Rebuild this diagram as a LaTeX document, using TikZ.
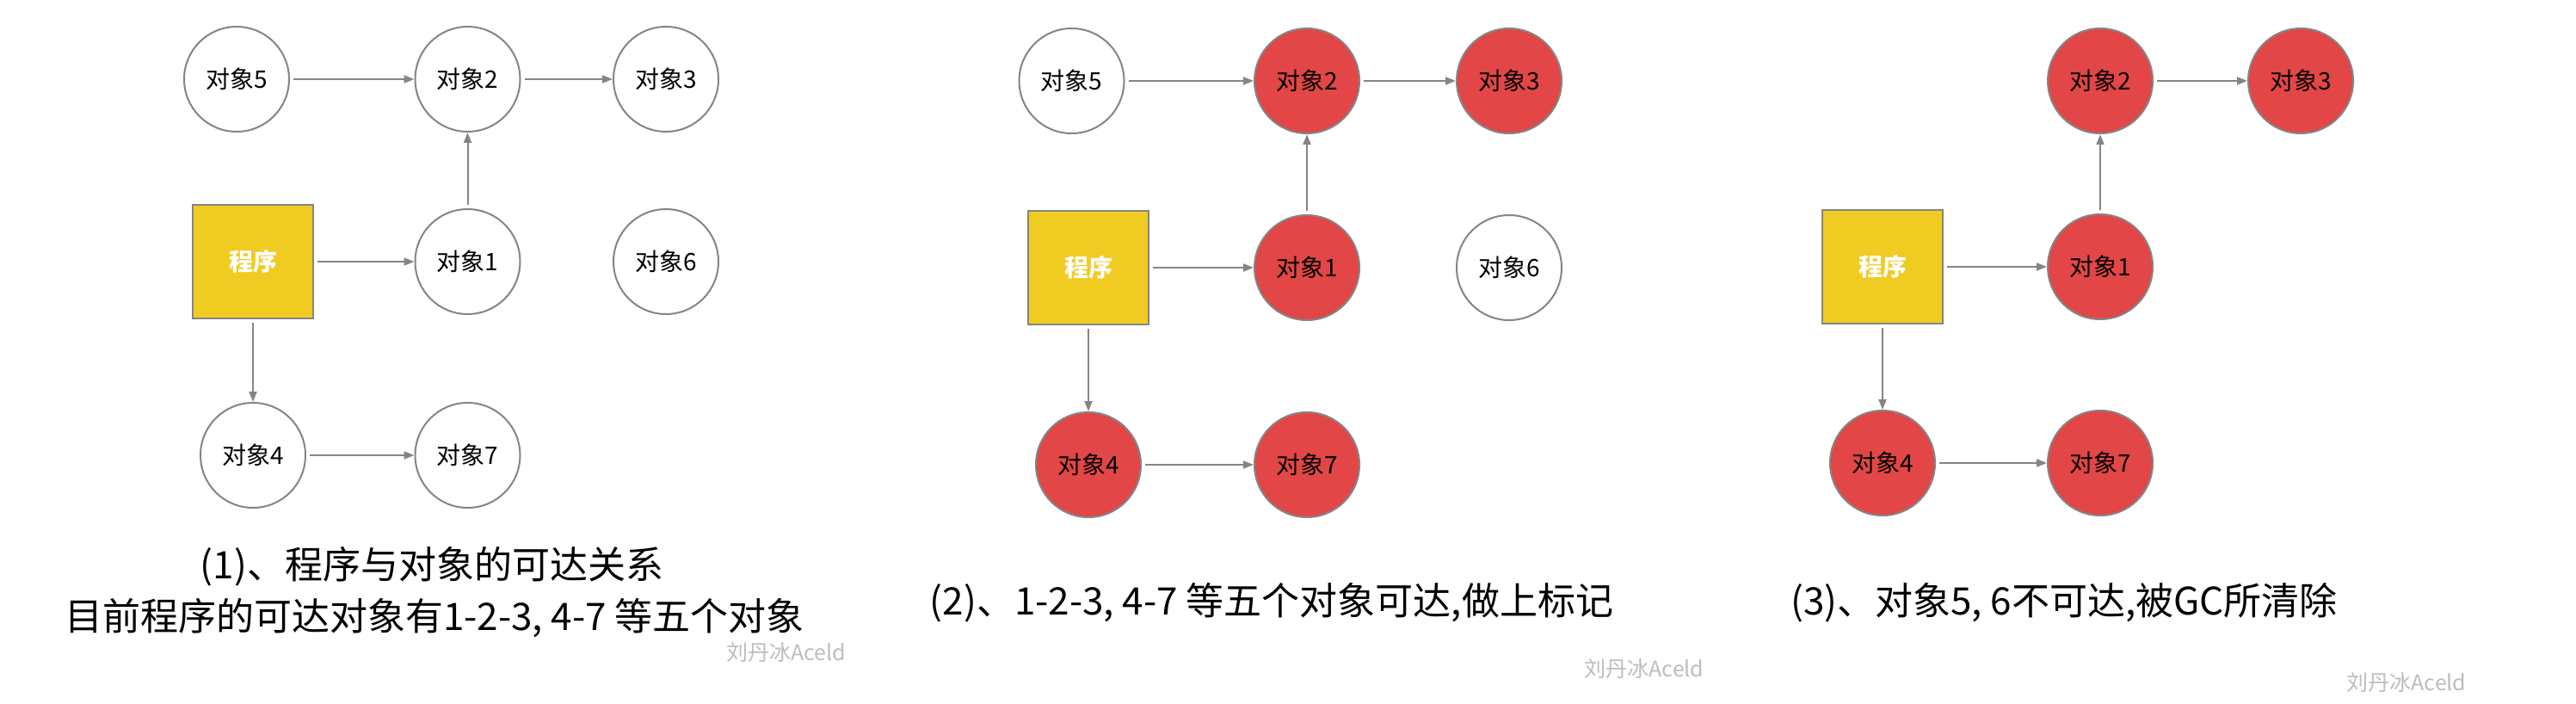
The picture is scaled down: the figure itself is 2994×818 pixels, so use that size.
\documentclass[tikz,border=0pt]{standalone}
\usepackage{fontspec}
\setmainfont{Noto Sans CJK SC}
\usetikzlibrary{arrows.meta}
\definecolor{objred}{HTML}{E24646}
\definecolor{progyellow}{HTML}{F0CB22}
\definecolor{edgegray}{HTML}{858585}
\definecolor{wmgray}{HTML}{BDBDBD}
\begin{document}
\begin{tikzpicture}[x=1pt,y=-1pt,
  obj/.style={circle, draw=edgegray, line width=2pt, minimum size=122pt, inner sep=0pt,
              fill=white, font=\fontsize{28}{32}\selectfont},
  reached/.style={obj, fill=objred},
  prog/.style={rectangle, draw=edgegray, line width=2pt, fill=progyellow,
               minimum width=140pt, minimum height=132pt, inner sep=0pt,
               text=white, font=\fontsize{28}{32}\selectfont\bfseries},
  link/.style={draw=edgegray, line width=2pt, -{Triangle[length=12pt,width=9pt]}, shorten <=4pt},
  caption/.style={font=\fontsize{44}{52}\selectfont, inner sep=0pt},
  wm/.style={font=\fontsize{25}{28}\selectfont, text=wmgray, inner sep=0pt}]
\useasboundingbox[fill=white] (0,0) rectangle (2994,818);

% ---------- panel 1 ----------
\node[prog] (p1) at (294,304) {程序};
\node[obj] (a5) at (275,92) {对象5};
\node[obj] (a2) at (543.5,92) {对象2};
\node[obj] (a3) at (774,92) {对象3};
\node[obj] (a1) at (543.5,304) {对象1};
\node[obj] (a6) at (774,304) {对象6};
\node[obj] (a4) at (294,529) {对象4};
\node[obj] (a7) at (543.5,529) {对象7};
\draw[link] (a5) -- (a2);
\draw[link] (a2) -- (a3);
\draw[link] (a1) -- (a2);
\draw[link] (p1) -- (a1);
\draw[link] (p1) -- (a4);
\draw[link] (a4) -- (a7);
\node[caption] (c1a) at (502,658) {(1)、程序与对象的可达关系};
\node[caption] (c1b) at (505,718) {目前程序的可达对象有1-2-3, 4-7 等五个对象};
\node[wm] (w1) at (914,758) {刘丹冰Aceld};

% ---------- panel 2 ----------
\node[prog] (p2) at (1265,311) {程序};
\node[obj] (b5) at (1245.5,94) {对象5};
\node[reached] (b2) at (1519,94) {对象2};
\node[reached] (b3) at (1754,94) {对象3};
\node[reached] (b1) at (1519,311) {对象1};
\node[obj] (b6) at (1754,311) {对象6};
\node[reached] (b4) at (1265,540) {对象4};
\node[reached] (b7) at (1519,540) {对象7};
\draw[link] (b5) -- (b2);
\draw[link] (b2) -- (b3);
\draw[link] (b1) -- (b2);
\draw[link] (p2) -- (b1);
\draw[link] (p2) -- (b4);
\draw[link] (b4) -- (b7);
\node[caption] (c2) at (1478,700) {(2)、1-2-3, 4-7 等五个对象可达,做上标记};
\node[wm] (w2) at (1911,777) {刘丹冰Aceld};

% ---------- panel 3 ----------
\node[prog] (p3) at (2188,310) {程序};
\node[reached] (d2) at (2441,94) {对象2};
\node[reached] (d3) at (2674,94) {对象3};
\node[reached] (d1) at (2441,310) {对象1};
\node[reached] (d4) at (2188,538) {对象4};
\node[reached] (d7) at (2441,538) {对象7};
\draw[link] (d2) -- (d3);
\draw[link] (d1) -- (d2);
\draw[link] (p3) -- (d1);
\draw[link] (p3) -- (d4);
\draw[link] (d4) -- (d7);
\node[caption] (c3) at (2399,700) {(3)、对象5, 6不可达,被GC所清除};
\node[wm] (w3) at (2797,793) {刘丹冰Aceld};
\end{tikzpicture}
\end{document}
